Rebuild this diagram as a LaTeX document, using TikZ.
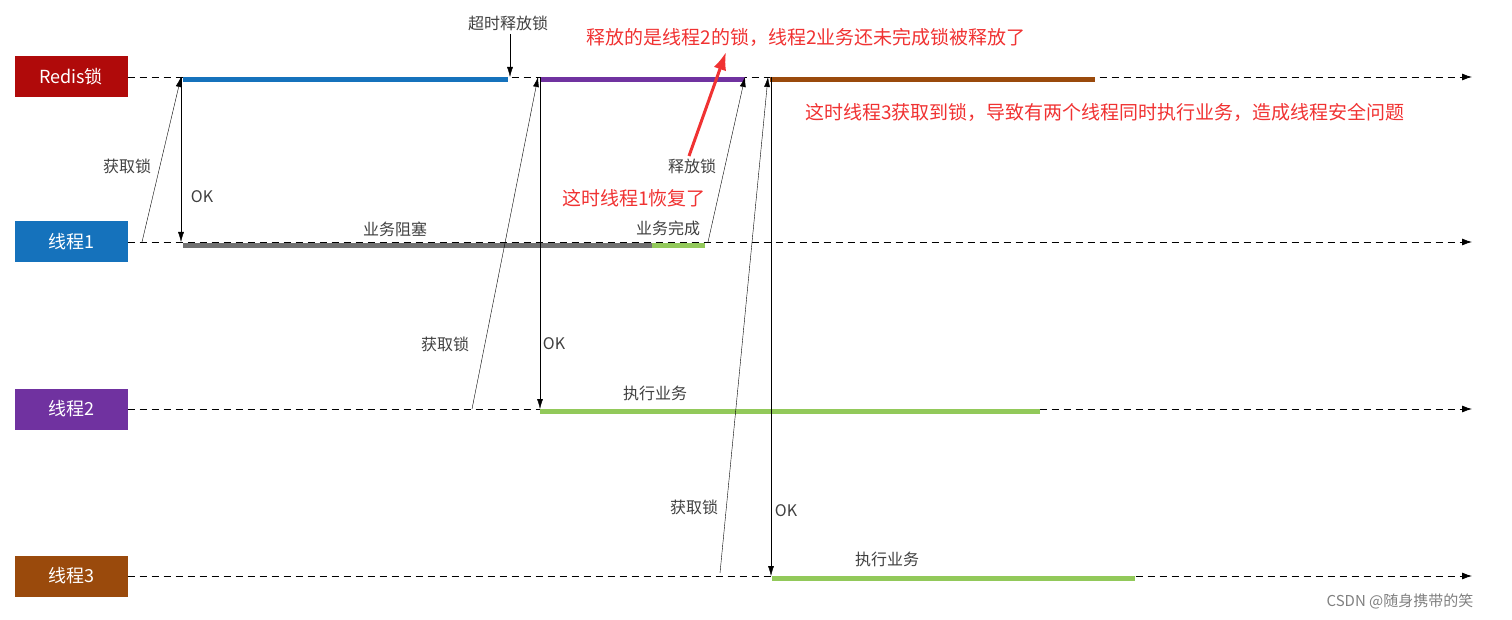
\documentclass[tikz,border=0pt]{standalone}
\usepackage{fontspec}
\setmainfont{Noto Sans CJK SC}
\usetikzlibrary{arrows.meta}
\definecolor{redisred}{HTML}{B00A0A}
\definecolor{tblue}{HTML}{1572BC}
\definecolor{tpurple}{HTML}{7032A0}
\definecolor{tbrown}{HTML}{9A4A0C}
\definecolor{bargreen}{HTML}{92C95A}
\definecolor{bargray}{HTML}{707070}
\definecolor{notered}{HTML}{F03232}
\tikzset{
  lane/.style={fill=#1, text=white, minimum width=113pt, minimum height=41pt, font=\fontsize{18}{21}\selectfont},
  timeline/.style={dashed, thick, dash pattern=on 7pt off 5pt, -{Latex[length=10pt,width=7pt]}},
  bar/.style={line width=5pt, draw=#1},
  msg/.style={thin, -{Latex[length=10pt,width=6pt]}},
  lbl/.style={font=\fontsize{16}{19}\selectfont, text=black!75},
  note/.style={font=\fontsize{19}{22}\selectfont, text=notered}
}
\begin{document}
\begin{tikzpicture}[x=1pt,y=-1pt]
\useasboundingbox (0,0) rectangle (1512,620);

% lanes
\node[lane=redisred] (redis) at (71,77) {Redis锁};
\node[lane=tblue] (t1) at (71,242) {线程1};
\node[lane=tpurple] (t2) at (71,409) {线程2};
\node[lane=tbrown] (t3) at (71,576) {线程3};

\coordinate (redisEnd) at (1472,77);
\coordinate (t1End) at (1472,242);
\coordinate (t2End) at (1472,409);
\coordinate (t3End) at (1472,576);
\draw[timeline] (redis.east) -- (redisEnd);
\draw[timeline] (t1.east) -- (t1End);
\draw[timeline] (t2.east) -- (t2End);
\draw[timeline] (t3.east) -- (t3End);

% bars
\draw[bar=tblue] (183,80) -- (508,80);
\draw[bar=tpurple] (540,80) -- (745,80);
\draw[bar=tbrown] (770,80) -- (1095,80);
\draw[bar=bargray] (183,246) -- (652,246);
\draw[bar=bargreen] (652,246) -- (705,246);
\draw[bar=bargreen] (540,411) -- (1040,411);
\draw[bar=bargreen] (772,578) -- (1135,578);

% thread 1
\coordinate (a1) at (142,242);
\coordinate (g1) at (181,77);
\coordinate (o1) at (181,242);
\draw[msg] (a1) -- (g1);
\draw[msg] (g1) -- (o1);
\node[lbl] at (127,166) {获取锁};
\node[lbl] at (202,197) {OK};

% timeout
\node[lbl] (timeout) at (508,23) {超时释放锁};
\coordinate (tr) at (510,77);
\draw[msg] (timeout.south -| tr) -- (tr);

% thread 2
\coordinate (a2) at (472,409);
\coordinate (g2) at (538,77);
\coordinate (o2) at (540,409);
\draw[msg] (a2) -- (g2);
\draw[msg] (540,77) -- (o2);
\node[lbl] at (445,344) {获取锁};
\node[lbl] at (554,344) {OK};

% thread 1 release
\coordinate (r1) at (708,242);
\coordinate (rl) at (745,77);
\draw[msg] (r1) -- (rl);
\node[lbl] at (692,166) {释放锁};

% thread 3
\coordinate (a3) at (720,573);
\coordinate (g3) at (768,77);
\coordinate (o3) at (771,576);
\draw[msg] (a3) -- (g3);
\draw[msg] (771,77) -- (o3);
\node[lbl] at (694,507) {获取锁};
\node[lbl] at (786,511) {OK};

% bar labels
\node[lbl] at (395,229) {业务阻塞};
\node[lbl] at (668,228) {业务完成};
\node[lbl] at (655,393) {执行业务};
\node[lbl] at (887,559) {执行业务};

% notes
\node[note] (n1) at (806,37) {释放的是线程2的锁，线程2业务还未完成锁被释放了};
\node[note] (n2) at (1105,112) {这时线程3获取到锁，导致有两个线程同时执行业务，造成线程安全问题};
\node[note] (n3) at (634,198) {这时线程1恢复了};
\coordinate (pt) at (726,52);
\draw[notered, line width=3pt, -{Latex[length=18pt,width=13pt]}] (689,156) -- (pt);

\node[font=\fontsize{15}{18}\selectfont, text=black!50] at (1400,601) {CSDN @随身携带的笑};
\end{tikzpicture}
\end{document}
